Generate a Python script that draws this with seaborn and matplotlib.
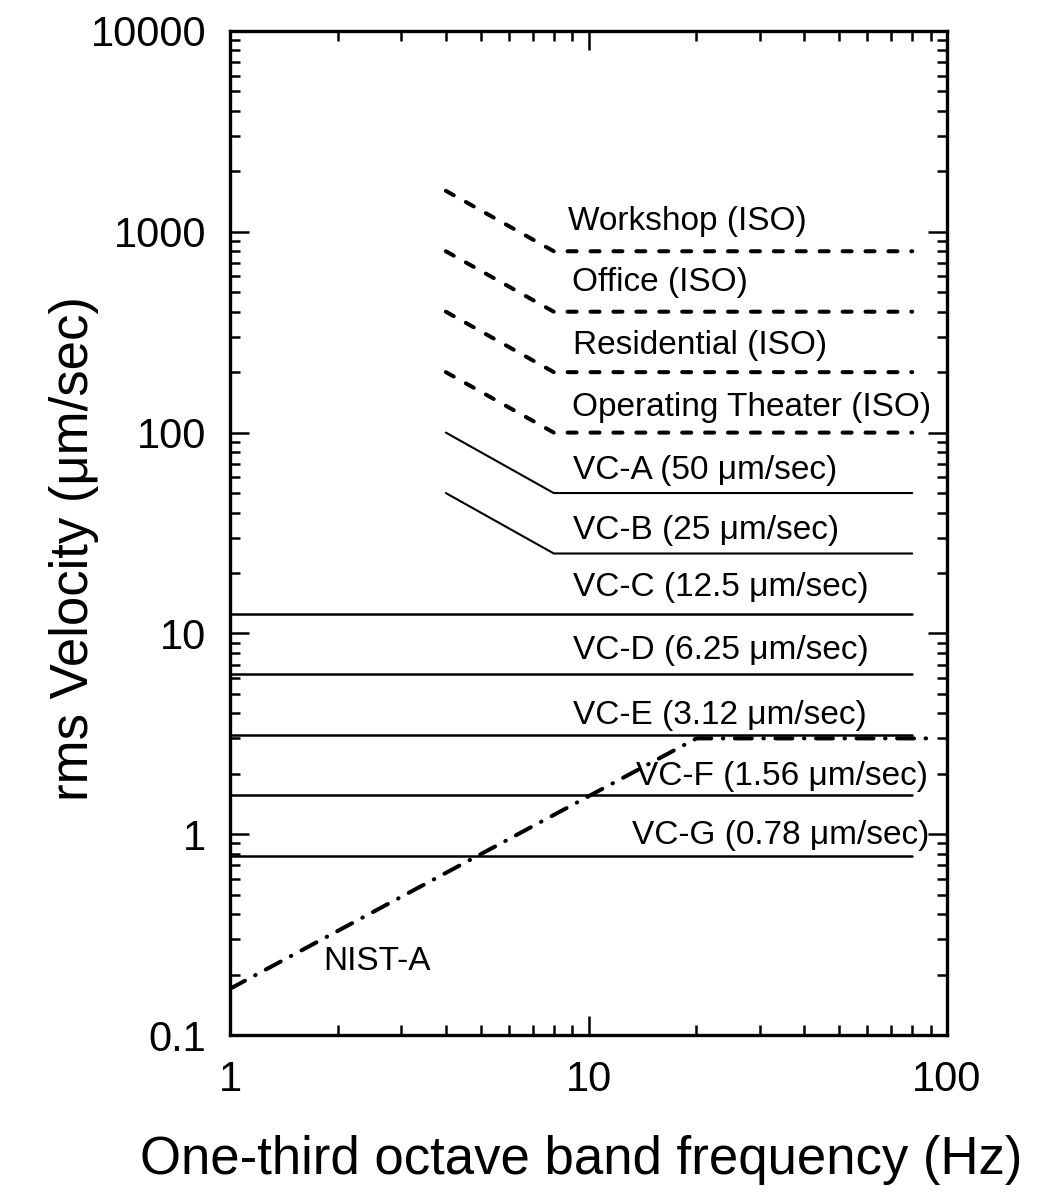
import matplotlib
matplotlib.use("Agg")
import matplotlib.pyplot as plt
from matplotlib.ticker import LogLocator, FuncFormatter, NullFormatter
import numpy as np
import pandas as pd
import seaborn as sns

# ---- criteria data (rms velocity in um/sec vs one-third octave band frequency in Hz) ----
freq_iso = [4, 8, 80]
workshop = [1600, 800, 800]
office = [800, 400, 400]
residential = [400, 200, 200]
operating = [200, 100, 100]

freq_vc_sloped = [4, 8, 80]
vc_a = [100, 50, 50]
vc_b = [50, 25, 25]

freq_vc_flat = [1, 80]
vc_c = [12.5, 12.5]
vc_d = [6.25, 6.25]
vc_e = [3.12, 3.12]
vc_f = [1.56, 1.56]
vc_g = [0.78, 0.78]

freq_nist = [1, 20, 90]
nist_a = [0.17, 3.0, 3.0]

label_names = ["Workshop (ISO)", "Office (ISO)", "Residential (ISO)",
               "Operating Theater (ISO)", "VC-A (50 μm/sec)", "VC-B (25 μm/sec)",
               "VC-C (12.5 μm/sec)", "VC-D (6.25 μm/sec)", "VC-E (3.12 μm/sec)",
               "VC-F (1.56 μm/sec)", "VC-G (0.78 μm/sec)", "NIST-A"]
label_x = [8.77, 9.0, 9.05, 9.0, 9.05, 9.05, 9.05, 9.05, 9.05, 13.6, 13.2, 1.82]
label_y = [1119, 556, 273, 134, 64.4, 32.7, 17.0, 8.26, 3.88, 1.93, 0.99, 0.231]

sns.set_style("ticks")
plt.rcParams["font.family"] = ["Liberation Sans", "DejaVu Sans"]
plt.rcParams["lines.scale_dashes"] = False
for key in ("text.color", "axes.labelcolor", "xtick.color", "ytick.color",
            "axes.edgecolor"):
    plt.rcParams[key] = "black"

fig = plt.figure(figsize=(10.48, 11.92), dpi=100)
ax = fig.add_axes([0.2195, 0.1317, 0.6841, 0.8423])

def draw(x, y, **kw):
    df = pd.DataFrame({"f": x, "v": y})
    sns.lineplot(data=df, x="f", y="v", ax=ax, color="black",
                 estimator=None, sort=False, **kw)
    return ax.lines[-1]

# ISO curves: heavy dashed
for series in (workshop, office, residential, operating):
    ln = draw(freq_iso, series, lw=2.9)
    ln.set_dashes((6.5, 10.0))
    ln.set_dash_capstyle("round")

# VC-A / VC-B: thin solid with a sloped low-frequency part
for series in (vc_a, vc_b):
    draw(freq_vc_sloped, series, lw=1.5)

# VC-C ... VC-G: flat solid lines
for series in (vc_c, vc_d, vc_e, vc_f, vc_g):
    draw(freq_vc_flat, series, lw=1.8)

# NIST-A: dash-dot
ln = draw(freq_nist, nist_a, lw=2.9)
ln.set_dashes((12.2, 8.3, 0.4, 8.3))
ln.set_dash_capstyle("round")

for name, xx, yy in zip(label_names, label_x, label_y):
    ax.text(xx, yy, name, fontsize=24, ha="left", va="center", color="black")

ax.set_xscale("log")
ax.set_yscale("log")
ax.set_xlim(1, 100)
ax.set_ylim(0.1, 10000)

ax.xaxis.set_major_locator(LogLocator(base=10, numticks=10))
ax.yaxis.set_major_locator(LogLocator(base=10, numticks=10))
ax.xaxis.set_minor_locator(LogLocator(base=10, subs=np.arange(2, 10), numticks=20))
ax.yaxis.set_minor_locator(LogLocator(base=10, subs=np.arange(2, 10), numticks=20))
fmt = FuncFormatter(lambda v, p: f"{v:g}")
ax.xaxis.set_major_formatter(fmt)
ax.yaxis.set_major_formatter(fmt)
ax.xaxis.set_minor_formatter(NullFormatter())
ax.yaxis.set_minor_formatter(NullFormatter())

ax.tick_params(which="both", direction="in", top=True, right=True, width=1.8,
               color="black", labelcolor="black", labelsize=30)
ax.tick_params(which="major", length=14)
ax.tick_params(which="minor", length=7)
ax.tick_params(axis="x", which="major", pad=18)
ax.tick_params(axis="y", which="major", pad=17)

for sp in ax.spines.values():
    sp.set_linewidth(2.4)
    sp.set_color("black")

ax.set_xlabel("One-third octave band frequency (Hz)", fontsize=38, color="black")
ax.set_ylabel("rms Velocity (μm/sec)", fontsize=38, color="black")
ax.xaxis.set_label_coords(0.49, -0.10)
ax.yaxis.set_label_coords(-0.183, 0.485)

fig.savefig("out.png", dpi=100, facecolor="white")
